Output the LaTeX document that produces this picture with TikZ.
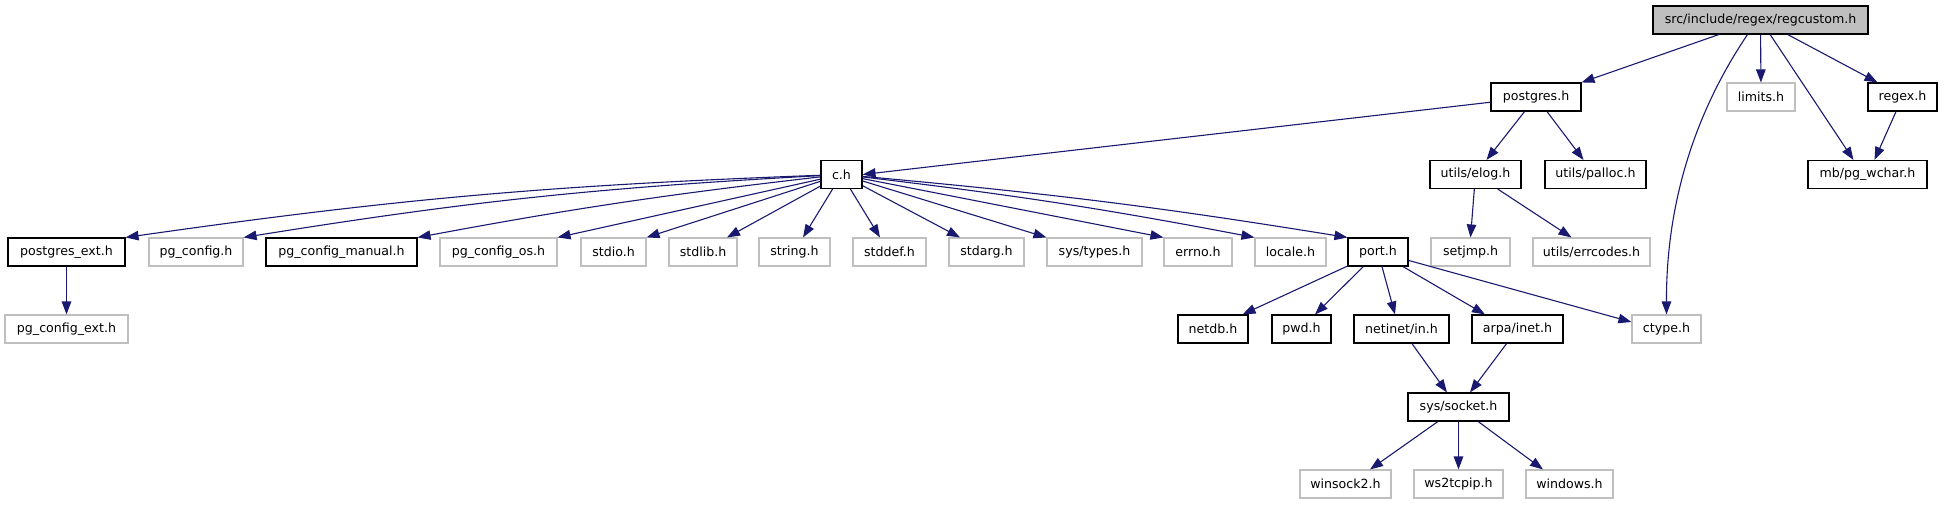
\documentclass[tikz,border=0pt]{standalone}
\usepackage{fontspec}
\newfontfamily\dvsans{DejaVu Sans}
\usepackage{tikz}
\usetikzlibrary{arrows.meta}

\definecolor{edgeblue}{HTML}{191970}
\definecolor{grey75}{HTML}{BFBFBF}

\tikzset{
  hfile/.style={draw=black, line width=1.1pt, inner sep=0pt, minimum height=28pt,
    font=\dvsans\fontsize{12.6pt}{15pt}\selectfont},
  inc/.style={draw=edgeblue, line width=1.1pt, -{Triangle[length=13pt,width=9.5pt]}},
}

\begin{document}
\begin{tikzpicture}[x=1pt, y=-1pt]
\useasboundingbox (0,0) rectangle (1944,504);

% Root file
\node[hfile, fill=grey75, minimum width=215pt] (reg) at (1760.5,20) {src/include/regex/regcustom.h};

% Level 1
\foreach \x/\w/\n/\c/\lbl in {1536/90/pg/black/postgres.h, 1761/68/limits/grey75/limits.h,
  1902.5/69/regex/black/regex.h}{
  \node[hfile, draw=\c, minimum width=\w pt] (\n) at (\x,97) {\lbl};
}

% Level 2
\foreach \x/\w/\n/\lbl in {841.5/41/ch/c.h, 1475.5/91/elog/{utils/elog.h},
  1595.5/101/palloc/{utils/palloc.h}, 1867.5/119/wchar/{mb/pg\_wchar.h}}{
  \node[hfile, minimum width=\w pt] (\n) at (\x,174.5) {\lbl};
}

% Level 3
\foreach \x/\w/\n/\c/\lbl in {66.5/117/pgext/black/postgres\_ext.h,
  196/94/pgconf/grey75/pg\_config.h, 341.5/151/manual/black/pg\_config\_manual.h,
  498.5/117/os/grey75/pg\_config\_os.h, 613.5/65/stdio/grey75/stdio.h,
  703/68/stdlib/grey75/stdlib.h, 794.5/71/string/grey75/string.h,
  889.5/73/stddef/grey75/stddef.h, 986.5/75/stdarg/grey75/stdarg.h,
  1094.5/95/systypes/grey75/{sys/types.h}, 1198/68/errno/grey75/errno.h,
  1290.5/71/locale/grey75/locale.h, 1378/60/port/black/port.h,
  1470.5/79/setjmp/grey75/setjmp.h, 1591.5/117/errcodes/grey75/{utils/errcodes.h}}{
  \node[hfile, draw=\c, minimum width=\w pt] (\n) at (\x,252) {\lbl};
}

% Level 4
\foreach \x/\w/\n/\c/\lbl in {66.5/123/pgcfgext/grey75/pg\_config\_ext.h,
  1213/70/netdb/black/netdb.h, 1301.5/59/pwd/black/pwd.h,
  1401.5/95/netinet/black/{netinet/in.h}, 1517.5/91/arpa/black/{arpa/inet.h},
  1666.5/69/ctype/grey75/ctype.h}{
  \node[hfile, draw=\c, minimum width=\w pt] (\n) at (\x,329) {\lbl};
}

% Level 5 and 6
\node[hfile, minimum width=101pt] (sock) at (1458.5,407) {sys/socket.h};
\foreach \x/\w/\n/\lbl in {1345.5/91/winsock/winsock2.h, 1458.5/89/wstcp/ws2tcpip.h,
  1569.5/87/windows/windows.h}{
  \node[hfile, draw=grey75, minimum width=\w pt] (\n) at (\x,484) {\lbl};
}

% Edges from the root
\draw[inc] (reg) -- (pg.north east);
\draw[inc] ([xshift=-13pt]reg.south) .. controls (1710,90) and (1666,180) .. (ctype.north);
\draw[inc] (reg) -- (limits);
\draw[inc] (reg) -- ([xshift=-14pt]wchar.north);
\draw[inc] (reg) -- ([xshift=-25pt]regex.north);
\draw[inc] (regex) -- ([xshift=7pt]wchar.north);

% postgres.h and utils/elog.h
\draw[inc] (pg) -- (ch.east);
\draw[inc] (pg) -- ([xshift=11pt]elog.north);
\draw[inc] (pg) -- ([xshift=-12pt]palloc.north);
\draw[inc] (elog) -- (setjmp.north);
\draw[inc] (elog) -- ([xshift=-20pt]errcodes.north);

% c.h fan
\draw[inc] (ch) to[bend right=3] (pgext.north east);
\draw[inc] (ch) to[bend right=3] (pgconf.north east);
\draw[inc] (ch) to[bend right=2] (manual.north east);
\draw[inc] (ch) -- (os.north east);
\draw[inc] (ch) -- (stdio.north east);
\draw[inc] (ch) -- ([xshift=24pt]stdlib.north);
\draw[inc] (ch) -- ([xshift=8.5pt]string.north);
\draw[inc] (ch) -- ([xshift=-9.5pt]stddef.north);
\draw[inc] (ch) -- ([xshift=-26.5pt]stdarg.north);
\draw[inc] (ch) -- (systypes.north west);
\draw[inc] (ch) -- (errno.north west);
\draw[inc] (ch) to[bend left=2] (locale.north west);
\draw[inc] (ch) to[bend left=2] (port.north west);
\draw[inc] (pgext) -- (pgcfgext);

% port.h and sockets
\draw[inc] (port) -- ([xshift=-6pt]netdb.north east);
\draw[inc] (port) -- ([xshift=13.5pt]pwd.north);
\draw[inc] (port) -- ([xshift=-6.5pt]netinet.north);
\draw[inc] (port) -- ([xshift=-32.5pt]arpa.north);
\draw[inc] (port) -- ([yshift=7pt]ctype.west);
\draw[inc] (netinet) -- ([xshift=-11.5pt]sock.north);
\draw[inc] (arpa) -- ([xshift=11.5pt]sock.north);
\draw[inc] (sock) -- ([xshift=24.5pt]winsock.north);
\draw[inc] (sock) -- (wstcp);
\draw[inc] (sock) -- ([xshift=-26.5pt]windows.north);
\end{tikzpicture}
\end{document}
